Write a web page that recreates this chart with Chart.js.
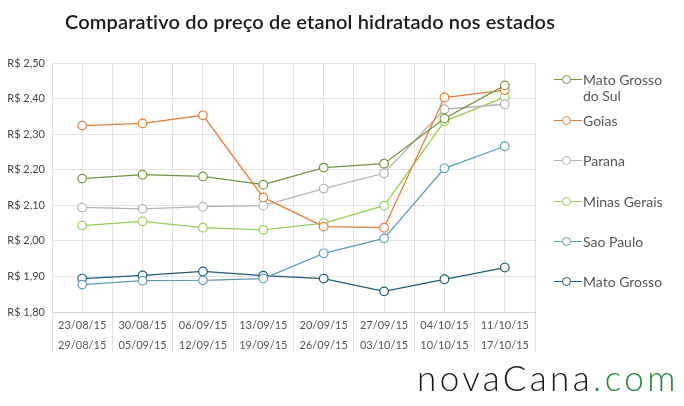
<!DOCTYPE html>
<html>
<head>
<meta charset="utf-8">
<script src="https://cdn.jsdelivr.net/npm/chart.js@4/dist/chart.umd.min.js"></script>
<style>
  html, body { margin:0; padding:0; background:#fff; }
  #wrap { position:relative; width:684px; height:406px; overflow:hidden; font-family:Lato, sans-serif; }
  #c { position:absolute; left:0; top:0; }
  #title { position:absolute; left:65px; top:9px; font-size:20px; font-weight:600; letter-spacing:0.15px; color:#1b1b1b; white-space:nowrap; }
  #legend { position:absolute; left:0; top:0; }
  .li { position:absolute; left:554px; font-size:14px; color:#555; line-height:16px; white-space:nowrap; }
  .li .txt { position:absolute; left:29px; top:0; }
  .li .ln { position:absolute; left:0; top:7px; width:28px; height:1.3px; }
  .li .dot { position:absolute; left:8px; top:3px; width:7px; height:7px; border-radius:50%; background:#fff; border:1.3px solid; }
  #logo { position:absolute; left:417px; top:356px; font-size:35px; font-weight:300; letter-spacing:3.4px; color:#1a1a1a; white-space:nowrap; }
  #logo span { color:#1e8a3c; }
</style>
</head>
<body>
<div id="wrap">
  <canvas id="c" width="684" height="406"></canvas>
  <div id="title">Comparativo do preço de etanol hidratado nos estados</div>
  <div id="legend"></div>
  <div id="logo">novaCana<span>.com</span></div>
</div>
<script>
// ---- data ----
const weekStart = ["23/08/15","30/08/15","06/09/15","13/09/15","20/09/15","27/09/15","04/10/15","11/10/15"];
const weekEnd   = ["29/08/15","05/09/15","12/09/15","19/09/15","26/09/15","03/10/15","10/10/15","17/10/15"];
const seriesNames = ["Mato Grosso do Sul","Goias","Parana","Minas Gerais","Sao Paulo","Mato Grosso"];
const matoGrossoDoSul = [2.175, 2.186, 2.181, 2.158, 2.206, 2.217, 2.344, 2.437];
const goias           = [2.324, 2.330, 2.353, 2.122, 2.040, 2.037, 2.403, 2.424];
const parana          = [2.094, 2.090, 2.096, 2.099, 2.147, 2.190, 2.370, 2.384];
const minasGerais     = [2.043, 2.055, 2.037, 2.031, 2.050, 2.099, 2.336, 2.404];
const saoPaulo        = [1.877, 1.888, 1.889, 1.894, 1.965, 2.007, 2.204, 2.266];
const matoGrosso      = [1.894, 1.903, 1.914, 1.902, 1.894, 1.858, 1.892, 1.925];
const yTicks = [1.8, 1.9, 2.0, 2.1, 2.2, 2.3, 2.4, 2.5];

const seriesValues = [matoGrossoDoSul, goias, parana, minasGerais, saoPaulo, matoGrosso];
const colors = ["#6f973b", "#ec7b30", "#b3b3b3", "#93d14f", "#5a9db4", "#1a5d7a"];
const legendLines = [["Mato Grosso","do Sul"],["Goias"],["Parana"],["Minas Gerais"],["Sao Paulo"],["Mato Grosso"]];
const legendTops = [72, 113, 153, 194, 234, 274];

const labels = weekStart.map((s, i) => [s, weekEnd[i]]);
const datasets = seriesNames.map((name, i) => ({
  label: name,
  data: seriesValues[i],
  borderColor: colors[i],
  backgroundColor: "#ffffff",
  pointBackgroundColor: "#ffffff",
  pointBorderColor: colors[i],
  pointRadius: 4.3,
  pointBorderWidth: 1.2,
  borderWidth: 1.3,
  tension: 0,
  xAxisID: "x",
  yAxisID: "y"
}));

const gridColor = "#e3e3e3";
const font = { family: "Lato, sans-serif", size: 11 };

new Chart(document.getElementById("c"), {
  type: "line",
  data: { labels, datasets },
  options: {
    responsive: false,
    animation: false,
    devicePixelRatio: 1,
    layout: { padding: { left: 0, right: 149, top: 63, bottom: 53 } },
    plugins: { legend: { display: false }, tooltip: { enabled: false }, title: { display: false } },
    scales: {
      x: {
        type: "category",
        position: "bottom",
        offset: true,
        grid: { offset: true, color: gridColor, tickColor: gridColor, tickLength: 41, drawTicks: true, lineWidth: 1 },
        border: { display: true, color: "#d6d6d6" },
        ticks: { color: "#555", font: { family: "Lato, sans-serif", size: 11, lineHeight: "20px" }, padding: -38, maxRotation: 0, autoSkip: false },
        afterFit: s => { s.height = 41; }
      },
      xc: {
        type: "category",
        position: "bottom",
        offset: true,
        grid: { offset: false, color: gridColor, drawTicks: false },
        border: { display: false },
        ticks: { display: false },
        afterFit: s => { s.height = 0; }
      },
      y: {
        type: "linear",
        min: yTicks[0],
        max: yTicks[yTicks.length - 1],
        afterBuildTicks: s => { s.ticks = yTicks.map(v => ({ value: v })); },
        grid: { color: gridColor, drawTicks: false },
        border: { display: true, color: gridColor },
        ticks: {
          color: "#444",
          font: font,
          padding: 7,
          callback: v => "R$ " + Number(v).toFixed(2).replace(".", ",")
        },
        afterFit: s => { s.width = 52; }
      }
    }
  }
});

// legend (HTML, built from series data)
const leg = document.getElementById("legend");
legendLines.forEach((lines, i) => {
  const d = document.createElement("div");
  d.className = "li";
  d.style.top = legendTops[i] + "px";
  d.innerHTML = '<div class="ln" style="background:' + colors[i] + '"></div>' +
    '<div class="dot" style="border-color:' + colors[i] + '"></div>' +
    '<div class="txt">' + lines.join("<br>") + '</div>';
  leg.appendChild(d);
});
</script>
</body>
</html>
